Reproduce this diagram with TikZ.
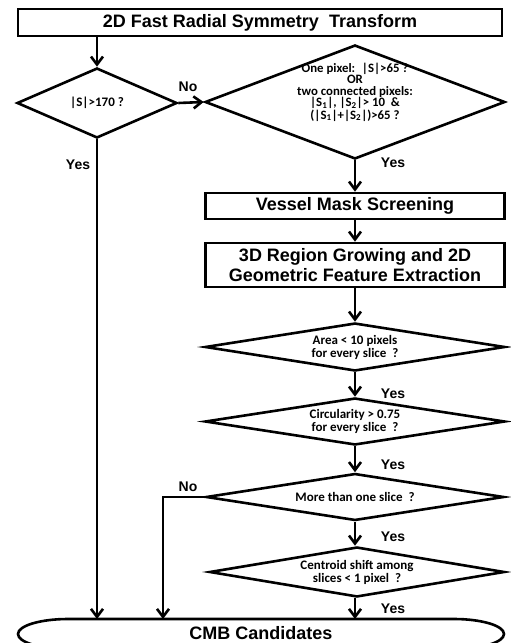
\documentclass[tikz,border=0pt]{standalone}
\usepackage{fontspec}
\setmainfont{Liberation Sans}
\newfontfamily\diafont{Carlito}
\usetikzlibrary{shapes.geometric,arrows.meta}

\begin{document}
\begin{tikzpicture}[x=1pt,y=-1pt,>={Straight Barb[length=8pt,width=12pt]},line width=2.6pt]
  \tikzstyle{box}=[draw, rectangle, minimum width=299pt, inner sep=0pt, align=center, font=\fontsize{18}{20.5}\selectfont\bfseries]
  \tikzstyle{dia}=[draw, diamond, inner sep=0pt, align=center, font=\diafont\fontsize{13}{13}\selectfont\bfseries]
  \tikzstyle{dtext}=[inner sep=0pt, align=center, font=\diafont\fontsize{12.8}{11.4}\selectfont\bfseries]
  \tikzstyle{lbl}=[inner sep=0pt, font=\fontsize{14}{16}\selectfont\bfseries]

  \useasboundingbox (0,0) rectangle (511,643);
  \clip (0,0) rectangle (511,643);

  % boxes and decisions
  \node[box, minimum width=484pt, minimum height=27pt] (fst) at (260,22.5) {2D Fast Radial Symmetry~ Transform};
  \node[dia, minimum width=160pt, minimum height=70pt, aspect=2.3] (big) at (97,103) {|S|>170 ?};
  \node[dia, minimum width=300pt, minimum height=114pt, aspect=2.6] (small) at (355,102) {};
  \node[dtext] (smalltxt) at (355,92) {One pixel:~ |S|>65 ?\\OR\\two connected pixels:\\
    |S\textsubscript{1}|, |S\textsubscript{2}|> 10~ \&\\(|S\textsubscript{1}|+|S\textsubscript{2}|)>65 ?};
  \node[box, minimum height=26pt] (vessel) at (355,206) {Vessel Mask Screening};
  \node[box, minimum height=44pt] (region) at (355,265) {3D Region Growing and 2D\\Geometric Feature Extraction};
  \node[dia, minimum width=300pt, minimum height=48pt, aspect=6] (area) at (355,347) {Area < 10 pixels\\for every slice~ ?};
  \node[dia, minimum width=300pt, minimum height=47pt, aspect=6] (circ) at (355,421.5) {Circularity > 0.75\\for every slice~ ?};
  \node[dia, minimum width=298pt, minimum height=47pt, aspect=6] (slices) at (355,497) {More than one slice~ ?};
  \node[dia, minimum width=295pt, minimum height=50pt, aspect=6] (shift) at (357,572) {Centroid shift among\\slices < 1 pixel~ ?};

  % terminal
  \draw (454,619) arc[start angle=-90, end angle=90, x radius=50, y radius=15]
    -- (68,649) arc[start angle=90, end angle=270, x radius=50, y radius=15] -- cycle;
  \node[inner sep=0pt, font=\fontsize{18}{20}\selectfont\bfseries] (cmb) at (261,633) {CMB Candidates};
  \coordinate (inA) at (97,619);
  \coordinate (inB) at (163,619);
  \coordinate (inC) at (355,619);
  \coordinate (bend) at (163,497);

  % connectors
  \draw[->] (fst.south -| big.north) -- (big.north);
  \draw[->] (big.east) -- (small.west);
  \draw[->] (big.south) -- (inA);
  \draw[->] (small.south) -- (vessel.north);
  \draw[->] (vessel.south) -- (region.north);
  \draw[->] (region.south) -- (area.north);
  \draw[->] (area.south) -- (circ.north);
  \draw[->] (circ.south) -- (slices.north);
  \draw[->] (slices.west) -- (bend) -- (inB);
  \draw[->] (slices.south) -- (slices.south |- shift.north);
  \draw[->] (shift.south -| inC) -- (inC);

  % branch labels
  \node[lbl] (no1) at (188,87) {No};
  \node[lbl] (yes1) at (78,165) {Yes};
  \node[lbl] (yes2) at (393,163) {Yes};
  \node[lbl] (yes3) at (393,394) {Yes};
  \node[lbl] (yes4) at (393,465) {Yes};
  \node[lbl] (no2) at (188,487) {No};
  \node[lbl] (yes5) at (393,537) {Yes};
  \node[lbl] (yes6) at (393,609) {Yes};
\end{tikzpicture}
\end{document}
